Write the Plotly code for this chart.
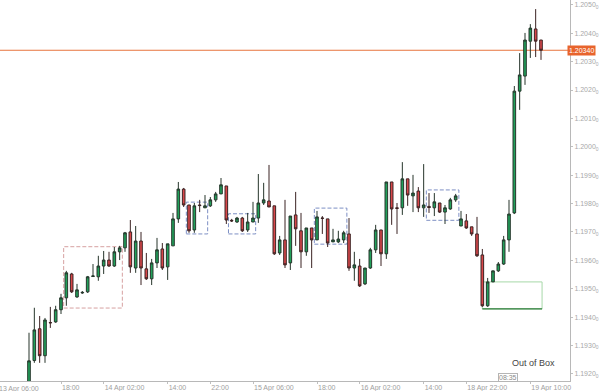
import plotly.graph_objects as go

# ---- data (EURUSD-like H1 candles; index 0 = 13 Apr 12:00, weekend gap after index 80) ----
candle_index = list(range(97))

open_ = [1.19169, 1.19247, 1.19359, 1.19264, 1.19381, 1.19383, 1.19426, 1.19468, 1.19552, 1.19471,
         1.19485, 1.19489, 1.19543, 1.19542, 1.19580, 1.19601, 1.19580, 1.19630, 1.19644, 1.19700,
         1.19573, 1.19668, 1.19570, 1.19535, 1.19591, 1.19640, 1.19577, 1.19651, 1.19746, 1.19851,
         1.19795, 1.19707, 1.19795, 1.19785, 1.19792, 1.19813, 1.19834, 1.19862, 1.19741, 1.19735,
         1.19749, 1.19707, 1.19735, 1.19749, 1.19802, 1.19809, 1.19792, 1.19626, 1.19672, 1.19591,
         1.19760, 1.19704, 1.19630, 1.19714, 1.19672, 1.19749, 1.19746, 1.19665, 1.19665, 1.19672,
         1.19693, 1.19573, 1.19580, 1.19517, 1.19573, 1.19637, 1.19707, 1.19623, 1.19876, 1.19785,
         1.19785, 1.19887, 1.19827, 1.19844, 1.19785, 1.19790, 1.19785, 1.19802, 1.19770, 1.19781,
         1.19813, 1.19721, 1.19739, 1.19718, 1.19693, 1.19619, 1.19440, 1.19524, 1.19563, 1.19587,
         1.19672, 1.19767, 1.20196, 1.20249, 1.20372, 1.20415, 1.20376]

high = [1.19345, 1.19433, 1.19404, 1.19397, 1.19436, 1.19440, 1.19482, 1.19563, 1.19556, 1.19517,
        1.19492, 1.19545, 1.19587, 1.19616, 1.19633, 1.19630, 1.19647, 1.19651, 1.19700, 1.19742,
        1.19721, 1.19700, 1.19626, 1.19605, 1.19679, 1.19661, 1.19658, 1.19767, 1.19876, 1.19855,
        1.19795, 1.19802, 1.19813, 1.19830, 1.19823, 1.19841, 1.19890, 1.19862, 1.19746, 1.19753,
        1.19753, 1.19767, 1.19806, 1.19904, 1.19873, 1.19936, 1.19792, 1.19686, 1.19813, 1.19756,
        1.19841, 1.19767, 1.19714, 1.19714, 1.19774, 1.19756, 1.19746, 1.19711, 1.19704, 1.19704,
        1.19749, 1.19630, 1.19605, 1.19573, 1.19644, 1.19725, 1.19707, 1.19876, 1.19876, 1.19802,
        1.19946, 1.19887, 1.19901, 1.19858, 1.19939, 1.19837, 1.19837, 1.19802, 1.19795, 1.19820,
        1.19834, 1.19774, 1.19763, 1.19718, 1.19753, 1.19640, 1.19538, 1.19563, 1.19594, 1.19686,
        1.19813, 1.20214, 1.20330, 1.20401, 1.20432, 1.20485, 1.20376]

low = [1.19165, 1.19239, 1.19239, 1.19239, 1.19362, 1.19380, 1.19411, 1.19440, 1.19485, 1.19468,
       1.19482, 1.19485, 1.19542, 1.19528, 1.19552, 1.19577, 1.19577, 1.19601, 1.19630, 1.19556,
       1.19556, 1.19513, 1.19531, 1.19513, 1.19573, 1.19566, 1.19531, 1.19651, 1.19732, 1.19788,
       1.19697, 1.19697, 1.19770, 1.19785, 1.19788, 1.19806, 1.19834, 1.19728, 1.19735, 1.19732,
       1.19700, 1.19700, 1.19735, 1.19732, 1.19795, 1.19788, 1.19619, 1.19619, 1.19573, 1.19566,
       1.19651, 1.19573, 1.19616, 1.19573, 1.19672, 1.19693, 1.19647, 1.19665, 1.19661, 1.19661,
       1.19563, 1.19528, 1.19506, 1.19513, 1.19570, 1.19626, 1.19580, 1.19605, 1.19725, 1.19693,
       1.19760, 1.19792, 1.19770, 1.19770, 1.19753, 1.19767, 1.19756, 1.19767, 1.19728, 1.19778,
       1.19806, 1.19721, 1.19711, 1.19686, 1.19612, 1.19436, 1.19436, 1.19524, 1.19559, 1.19584,
       1.19630, 1.19763, 1.20130, 1.20218, 1.20313, 1.20316, 1.20306]

close = [1.19246, 1.19355, 1.19264, 1.19390, 1.19380, 1.19426, 1.19468, 1.19556, 1.19489, 1.19496,
         1.19487, 1.19542, 1.19545, 1.19580, 1.19601, 1.19580, 1.19630, 1.19644, 1.19697, 1.19577,
         1.19668, 1.19573, 1.19535, 1.19591, 1.19637, 1.19573, 1.19658, 1.19746, 1.19851, 1.19795,
         1.19704, 1.19792, 1.19793, 1.19792, 1.19813, 1.19834, 1.19866, 1.19742, 1.19739, 1.19749,
         1.19704, 1.19735, 1.19749, 1.19802, 1.19813, 1.19788, 1.19623, 1.19672, 1.19584, 1.19756,
         1.19711, 1.19630, 1.19714, 1.19672, 1.19753, 1.19748, 1.19661, 1.19672, 1.19675, 1.19697,
         1.19573, 1.19584, 1.19510, 1.19573, 1.19637, 1.19707, 1.19623, 1.19876, 1.19781, 1.19783,
         1.19887, 1.19830, 1.19837, 1.19785, 1.19795, 1.19786, 1.19806, 1.19770, 1.19785, 1.19813,
         1.19827, 1.19746, 1.19714, 1.19693, 1.19616, 1.19440, 1.19524, 1.19563, 1.19587, 1.19672,
         1.19763, 1.20196, 1.20253, 1.20376, 1.20418, 1.20372, 1.20340]

tick_index = [-6, 6, 14, 26, 34, 42, 54, 62, 74, 82, 94]
tick_labels = ["13 Apr 06:00", "18:00", "14 Apr 02:00", "14:00", "22:00", "15 Apr 06:00",
               "18:00", "16 Apr 02:00", "14:00", "18 Apr 22:00", "19 Apr 10:00"]

price_ticks = [1.1920, 1.1930, 1.1940, 1.1950, 1.1960, 1.1970, 1.1980,
               1.1990, 1.2000, 1.2010, 1.2020, 1.2030, 1.2040, 1.2050]
price_tick_labels = ["1.1920", "1.1930", "1.1940", "1.1950", "1.1960", "1.1970", "1.1980",
                     "1.1990", "1.2000", "1.2010", "1.2020", "1.2030", "1.2040", "1.2050"]

current_price = 1.20340
current_price_label = "1.20340"

# drawn zones (candle index from/to, price from/to)
range_box_x = [6.5, 17.5]
range_box_y = [1.19432, 1.19648]
blue_box_x0 = [29.5, 37.4, 53.5, 74.5]
blue_box_x1 = [33.5, 42.5, 59.6, 80.6]
blue_box_y0 = [1.19693, 1.19693, 1.19657, 1.19741]
blue_box_y1 = [1.19805, 1.19764, 1.19784, 1.19848]
out_box_x = [85.0, 96.2]
out_box_y = [1.19429, 1.19524]
out_box_text = "Out of Box"
out_box_text_index = 94.5
cursor_time_label = "08:35"
cursor_index = 89.8

X_RANGE = [-5.4375, 101.4375]
TICK_FONT = dict(family="Liberation Sans", size=7, color="#a0a0a0")

# ---- figure ----
fig = go.Figure()
fig.add_trace(go.Candlestick(
    x=candle_index, open=open_, high=high, low=low, close=close,
    increasing=dict(fillcolor="#21a05a", line=dict(color="#26352b", width=1)),
    decreasing=dict(fillcolor="#d8474a", line=dict(color="#3b2323", width=1)),
    whiskerwidth=0, hoverinfo="skip",
))

shapes = []
shapes.append(dict(type="line", xref="paper", x0=0, x1=1, yref="y", y0=current_price, y1=current_price,
                   line=dict(color="#e8743e", width=1), layer="below"))
shapes.append(dict(type="rect", xref="x", yref="y", x0=range_box_x[0], x1=range_box_x[1],
                   y0=range_box_y[0], y1=range_box_y[1],
                   line=dict(color="#d6a0a0", width=1, dash="4px,2px"), layer="below"))
for a, b, c, d in zip(blue_box_x0, blue_box_x1, blue_box_y0, blue_box_y1):
    shapes.append(dict(type="rect", xref="x", yref="y", x0=a, x1=b, y0=c, y1=d,
                       line=dict(color="#7d8fc4", width=1, dash="4px,2px"), layer="below"))
shapes.append(dict(type="rect", xref="x", yref="y", x0=out_box_x[0], x1=out_box_x[1],
                   y0=out_box_y[0], y1=out_box_y[1],
                   line=dict(color="#a6d8a8", width=1), layer="below"))
shapes.append(dict(type="line", xref="x", yref="y", x0=out_box_x[0], x1=out_box_x[1],
                   y0=out_box_y[0], y1=out_box_y[0],
                   line=dict(color="#2e7d3a", width=1.2)))

annotations = [
    dict(xref="paper", yref="y", x=1, y=current_price, text=current_price_label, showarrow=False,
         xanchor="left", yanchor="middle", xshift=-3,
         font=dict(family="Liberation Sans", size=7, color="white"),
         bgcolor="#e8642c", borderpad=1),
    dict(xref="x", yref="paper", x=out_box_text_index, y=0.047, text=out_box_text,
         showarrow=False, xanchor="center", yanchor="middle",
         font=dict(family="Liberation Sans", size=9, color="#444444")),
    dict(xref="x", yref="paper", x=cursor_index, y=0.01, text=cursor_time_label, showarrow=False,
         xanchor="center", yanchor="middle",
         font=dict(family="Liberation Sans", size=7, color="#8a8a8a"),
         bgcolor="white", bordercolor="#b5b5b5", borderwidth=1, borderpad=0),
]

# axis ticks that fall left of the visible range are written as labels in paper units
span = X_RANGE[1] - X_RANGE[0]
for ti, tl in zip(tick_index, tick_labels):
    if ti < X_RANGE[0]:
        annotations.append(dict(xref="paper", yref="paper", x=(ti - X_RANGE[0]) / span, y=0,
                                yanchor="top", xanchor="left", yshift=-2,
                                text=tl, showarrow=False, font=TICK_FONT))

in_ticks = [(ti, tl) for ti, tl in zip(tick_index, tick_labels) if ti >= X_RANGE[0]]

fig.update_layout(
    width=600, height=391,
    margin=dict(l=0, r=30, t=0, b=10),
    paper_bgcolor="white", plot_bgcolor="white",
    showlegend=False,
    shapes=shapes, annotations=annotations,
    xaxis=dict(range=X_RANGE, tickvals=[t[0] for t in in_ticks], ticktext=[t[1] for t in in_ticks],
               showgrid=False, zeroline=False, showline=True, linecolor="#b8b8b8", linewidth=1,
               ticks="outside", ticklen=2, tickcolor="#c0c0c0",
               ticklabelposition="outside right",
               tickfont=TICK_FONT,
               rangeslider=dict(visible=False), automargin=False, fixedrange=True),
    yaxis=dict(range=[1.19175, 1.20517], side="right", tickvals=price_ticks,
               ticktext=[t + "<sub>0</sub>" for t in price_tick_labels],
               showgrid=False, zeroline=False, showline=True, linecolor="#b8b8b8", linewidth=1,
               ticks="outside", ticklen=2, tickcolor="#c0c0c0",
               tickfont=dict(family="Liberation Sans", size=7, color="#a8a8a8"),
               automargin=False, fixedrange=True),
)

fig.write_html("out.html", config={"displayModeBar": False},
               post_script="document.body.style.margin='0px';document.body.style.padding='0px';")
